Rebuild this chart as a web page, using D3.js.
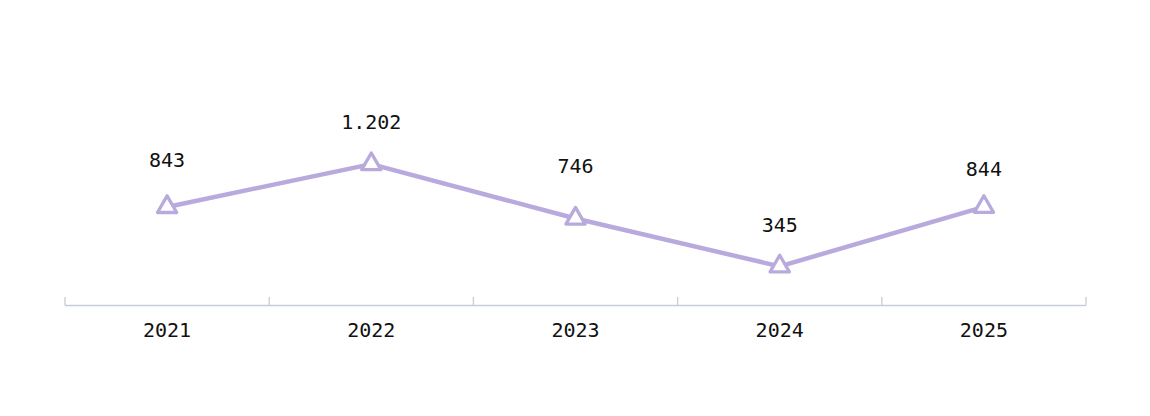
<!DOCTYPE html>
<html>
<head>
<meta charset="utf-8">
<script src="https://cdn.jsdelivr.net/npm/d3@7"></script>
<style>
  html, body { margin: 0; padding: 0; background: #fff; }
  svg text { font-family: "DejaVu Sans Mono", monospace; fill: #111; }
</style>
</head>
<body>
<svg id="chart" width="1150" height="416"></svg>
<script>
// chart data
var years = ['2021', '2022', '2023', '2024', '2025']
var values = [843, 1202, 746, 345, 844]
var valueLabels = ['843', '1.202', '746', '345', '844']

// label lift above each marker (layout tweak, px)
var labelLift = [40, 35, 46, 34, 31]

var width = 1150, height = 416
var margin = {left: 65, right: 64, top: 20, axisY: 305.5}

var svg = d3.select('#chart')

var x = d3.scaleBand()
    .domain(years)
    .range([margin.left, width - margin.right])

var y = d3.scaleLinear()
    .domain([0, 2410])
    .range([307.5, 20])

// x axis: baseline, band-edge ticks, labels at band centres
var g_axis = svg.append('g')
g_axis.append('line')
    .attr('x1', x.range()[0]).attr('x2', x.range()[1])
    .attr('y1', margin.axisY).attr('y2', margin.axisY)
    .attr('stroke', '#c5cdd9').attr('stroke-width', 1.3)

var edges = years.map(function(d){ return x(d) }).concat([x.range()[1]])
g_axis.selectAll('.tick')
    .data(edges)
    .enter().append('line')
    .classed('tick', true)
    .attr('x1', function(d){ return d }).attr('x2', function(d){ return d })
    .attr('y1', margin.axisY - 8.5).attr('y2', margin.axisY)
    .attr('stroke', '#c5cdd9').attr('stroke-width', 1.3)

g_axis.selectAll('.yearLabel')
    .data(years)
    .enter().append('text')
    .classed('yearLabel', true)
    .attr('x', function(d){ return x(d) + x.bandwidth()/2 })
    .attr('y', 337)
    .attr('text-anchor', 'middle')
    .attr('font-size', 20)
    .text(function(d){ return d })

var cx = function(d, i){ return x(years[i]) + x.bandwidth()/2 }

// line
var line = d3.line()
    .x(cx)
    .y(function(d){ return y(d) })

svg.append('path')
    .datum(values)
    .attr('d', line)
    .attr('fill', 'none')
    .attr('stroke', '#b9aadd')
    .attr('stroke-width', 4.5)
    .attr('stroke-linejoin', 'round')

// triangle markers
var tri = d3.symbol().type(d3.symbolTriangle).size(160)
svg.selectAll('.marker')
    .data(values)
    .enter().append('path')
    .classed('marker', true)
    .attr('d', tri)
    .attr('transform', function(d, i){ return 'translate(' + cx(d, i) + ',' + y(d) + ')' })
    .attr('fill', '#fff')
    .attr('stroke', '#b9aadd')
    .attr('stroke-width', 3.3)
    .attr('stroke-linejoin', 'round')

// value labels
svg.selectAll('.valueLabel')
    .data(values)
    .enter().append('text')
    .classed('valueLabel', true)
    .attr('x', cx)
    .attr('y', function(d, i){ return y(d) - labelLift[i] })
    .attr('text-anchor', 'middle')
    .attr('font-size', 20)
    .text(function(d, i){ return valueLabels[i] })
</script>
</body>
</html>
